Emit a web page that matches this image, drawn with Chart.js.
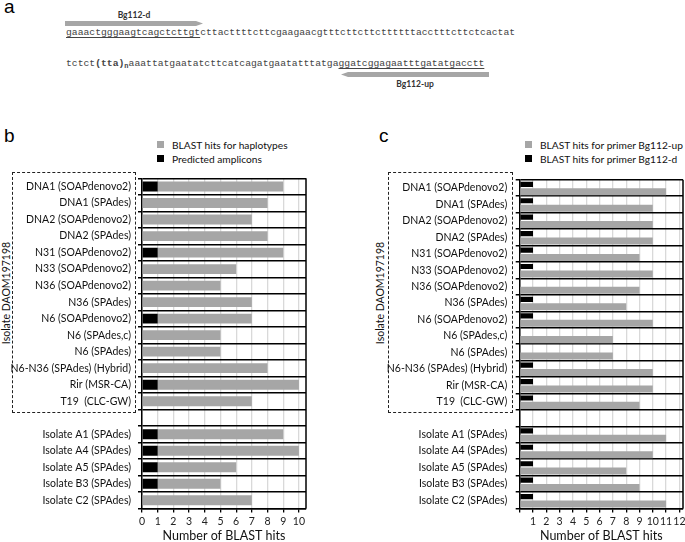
<!DOCTYPE html>
<html>
<head>
<meta charset="utf-8">
<script src="https://cdn.jsdelivr.net/npm/chart.js@4.4.1/dist/chart.umd.min.js"></script>
<style>
  html, body { margin: 0; padding: 0; background: #fff; overflow: hidden; }
  #page { position: relative; width: 685px; height: 542px; overflow: hidden; font-family: Lato, 'Open Sans', sans-serif; }
  .abs { position: absolute; }
  .letter { font-family: 'Liberation Sans', Arial, sans-serif; font-size: 19px; line-height: 19px; color: #000; }
  .seq { font-family: 'Liberation Mono', 'Courier New', monospace; font-size: 9.73px; line-height: 10px; color: #444; white-space: pre; }
  .seq u { text-decoration-thickness: 1px; text-underline-offset: 2px; }
  .seq sub { font-size: 7px; line-height: 0; vertical-align: -2px; font-weight: bold; }
  .primer { font-size: 8.5px; font-weight: bold; color: #333; transform: translateX(-50%); white-space: nowrap; line-height: 10px; }
  .leg { font-size: 10.2px; line-height: 12px; color: #111; white-space: nowrap; }
  .swatch { width: 7px; height: 7px; }
  .dashbox { border: 1.4px dashed #222; box-sizing: border-box; }
  .vlabel { font-size: 10.5px; color: #111; white-space: nowrap; transform: translate(-50%, -50%) rotate(-90deg); }
</style>
</head>
<body>
<div id="page">
  <!-- panel a: primer positions on the sequence -->
  <div class="abs letter" style="left:4px; top:-3px;">a</div>
  <svg class="abs" style="left:0; top:0;" width="685" height="100">
    <polygon points="65,21 196,21 203,23.5 196,26 65,26" fill="#a6a6a6"/>
    <polygon points="489,72 348,72 341,74.5 348,77 489,77" fill="#a6a6a6"/>
  </svg>
  <div class="abs primer" style="left:134px; top:10px;">Bg112-d</div>
  <div class="abs seq" style="left:66px; top:28px;"><u>gaaactgggaagtcagctcttgt</u>cttacttttcttcgaagaacgtttcttcttcttttttacctttcttctcactat</div>
  <div class="abs seq" style="left:66px; top:59px;">tctct<b>(tta)</b><sub>n</sub>aaattatgaatatcttcatcagatgaatatttatga<u>ggatcggagaatttgatatgacctt</u></div>
  <div class="abs primer" style="left:415px; top:79px;">Bg112-up</div>

  <!-- panel b -->
  <div class="abs letter" style="left:4px; top:126px;">b</div>
  <div class="abs swatch" style="left:157px; top:141px; background:#a6a6a6;"></div>
  <div class="abs leg" style="left:172px; top:139px;">BLAST hits for haplotypes</div>
  <div class="abs swatch" style="left:157px; top:155px; background:#000;"></div>
  <div class="abs leg" style="left:172px; top:153px;">Predicted amplicons</div>
  <div class="abs dashbox" style="left:12px; top:172px; width:124px; height:241px;"></div>
  <div class="abs vlabel" style="left:6px; top:293px;">Isolate DAOM197198</div>
  <canvas id="chartB" class="abs" style="left:0; top:165px;" width="330" height="377"></canvas>

  <!-- panel c -->
  <div class="abs letter" style="left:379px; top:126px;">c</div>
  <div class="abs swatch" style="left:525px; top:141px; background:#a6a6a6;"></div>
  <div class="abs leg" style="left:540px; top:139px;">BLAST hits for primer Bg112-up</div>
  <div class="abs swatch" style="left:525px; top:155px; background:#000;"></div>
  <div class="abs leg" style="left:540px; top:153px;">BLAST hits for primer Bg112-d</div>
  <div class="abs dashbox" style="left:388px; top:172px; width:125px; height:241px;"></div>
  <div class="abs vlabel" style="left:380px; top:293px;">Isolate DAOM197198</div>
  <canvas id="chartC" class="abs" style="left:360px; top:165px;" width="335" height="377"></canvas>
</div>

<script>
// Row labels (the empty one is the gap between DAOM197198 and the other isolates)
const assemblies = [
    'DNA1 (SOAPdenovo2)', 'DNA1 (SPAdes)', 'DNA2 (SOAPdenovo2)', 'DNA2 (SPAdes)',
    'N31 (SOAPdenovo2)', 'N33 (SOAPdenovo2)', 'N36 (SOAPdenovo2)', 'N36 (SPAdes)',
    'N6 (SOAPdenovo2)', 'N6 (SPAdes,c)', 'N6 (SPAdes)', 'N6-N36 (SPAdes) (Hybrid)',
    'Rir (MSR-CA)', 'T19  (CLC-GW)', '',
    'Isolate A1 (SPAdes)', 'Isolate A4 (SPAdes)', 'Isolate A5 (SPAdes)',
    'Isolate B3 (SPAdes)', 'Isolate C2 (SPAdes)'
];

// Panel b
const haplotypeHits = [9, 8, 7, 8, 9, 6, 5, 7, 7, 5, 5, 8, 10, 7, null, 9, 10, 6, 5, 7];
const predictedAmplicons = [1, 0, 0, 0, 1, 0, 0, 0, 1, 0, 0, 0, 1, 0, null, 1, 1, 1, 1, 0];

// Panel c
const primerUpHits = [11, 10, 10, 10, 9, 10, 9, 8, 10, 7, 7, 10, 10, 9, null, 11, 10, 8, 9, 11];
const primerDHits = [1, 1, 1, 1, 1, 1, 0, 1, 1, 0, 0, 1, 1, 1, null, 1, 1, 1, 1, 1];

const GRAY = '#a6a6a6';
Chart.defaults.font.family = "Lato, 'Open Sans', sans-serif";
Chart.defaults.color = '#111';

// draws the right-hand edge of the plot frame
const rightFrame = {
    id: 'rightFrame',
    afterDraw(chart) {
        const ctx = chart.ctx;
        const a = chart.chartArea;
        ctx.save();
        ctx.strokeStyle = '#000';
        ctx.lineWidth = 1.5;
        ctx.beginPath();
        ctx.moveTo(a.right, a.top);
        ctx.lineTo(a.right, a.bottom);
        ctx.stroke();
        ctx.restore();
    }
};

function xAxis(max, labelFn, extra) {
    return Object.assign({
        min: 0,
        max: max,
        ticks: {
            stepSize: 1, includeBounds: false, autoSkip: false,
            maxRotation: 0, minRotation: 0, padding: 3,
            font: { size: 10.5 }, color: '#222',
            callback: labelFn
        },
        grid: { color: '#d9d9d9', lineWidth: 1.3, tickColor: '#000', tickLength: 4 },
        border: { color: '#000', width: 1.5 },
        title: { display: true, text: 'Number of BLAST hits', font: { size: 12.5, lineHeight: 1 }, padding: 0, color: '#111' },
        afterFit: s => { s.height = 33.5; }
    }, extra);
}

function yAxis(width, pad, extra) {
    return Object.assign({
        grid: { offset: true, color: '#000', lineWidth: 1.5, tickLength: 4 },
        border: { color: '#000', width: 1.5 },
        ticks: { padding: pad, autoSkip: false, font: { size: 10.5 }, color: '#111' },
        afterFit: s => { s.width = width; }
    }, extra);
}

new Chart(document.getElementById('chartB'), {
    type: 'bar',
    data: {
        labels: assemblies,
        datasets: [
            {
                label: 'Predicted amplicons',
                data: predictedAmplicons,
                backgroundColor: '#000',
                stack: 'hits',
                barPercentage: 0.75,
                categoryPercentage: 0.8
            },
            {
                label: 'BLAST hits for haplotypes',
                data: haplotypeHits.map((v, i) => v == null ? null : v - predictedAmplicons[i]),
                backgroundColor: GRAY,
                stack: 'hits',
                barPercentage: 0.75,
                categoryPercentage: 0.8
            }
        ]
    },
    options: {
        indexAxis: 'y',
        responsive: false,
        animation: false,
        layout: { padding: { top: 8, right: 24, left: 0, bottom: 0 } },
        plugins: { legend: { display: false }, tooltip: { enabled: false } },
        scales: {
            x: xAxis(10.45, v => v, { stacked: true }),
            y: yAxis(142, 7, { stacked: true })
        }
    },
    plugins: [rightFrame]
});

new Chart(document.getElementById('chartC'), {
    type: 'bar',
    data: {
        labels: assemblies,
        datasets: [
            {
                label: 'BLAST hits for primer Bg112-d',
                data: primerDHits,
                backgroundColor: '#000',
                barPercentage: 0.7,
                categoryPercentage: 0.9
            },
            {
                label: 'BLAST hits for primer Bg112-up',
                data: primerUpHits,
                backgroundColor: GRAY,
                barPercentage: 0.95,
                categoryPercentage: 0.9
            }
        ]
    },
    options: {
        indexAxis: 'y',
        responsive: false,
        animation: false,
        layout: { padding: { top: 8, right: 12, left: 0, bottom: 0 } },
        plugins: { legend: { display: false }, tooltip: { enabled: false } },
        scales: {
            // no label at 0 on this panel
            x: xAxis(12.27, v => v === 0 ? '' : v, {}),
            y: yAxis(159.7, 8.5, {})
        }
    },
    plugins: [rightFrame]
});
</script>
</body>
</html>
